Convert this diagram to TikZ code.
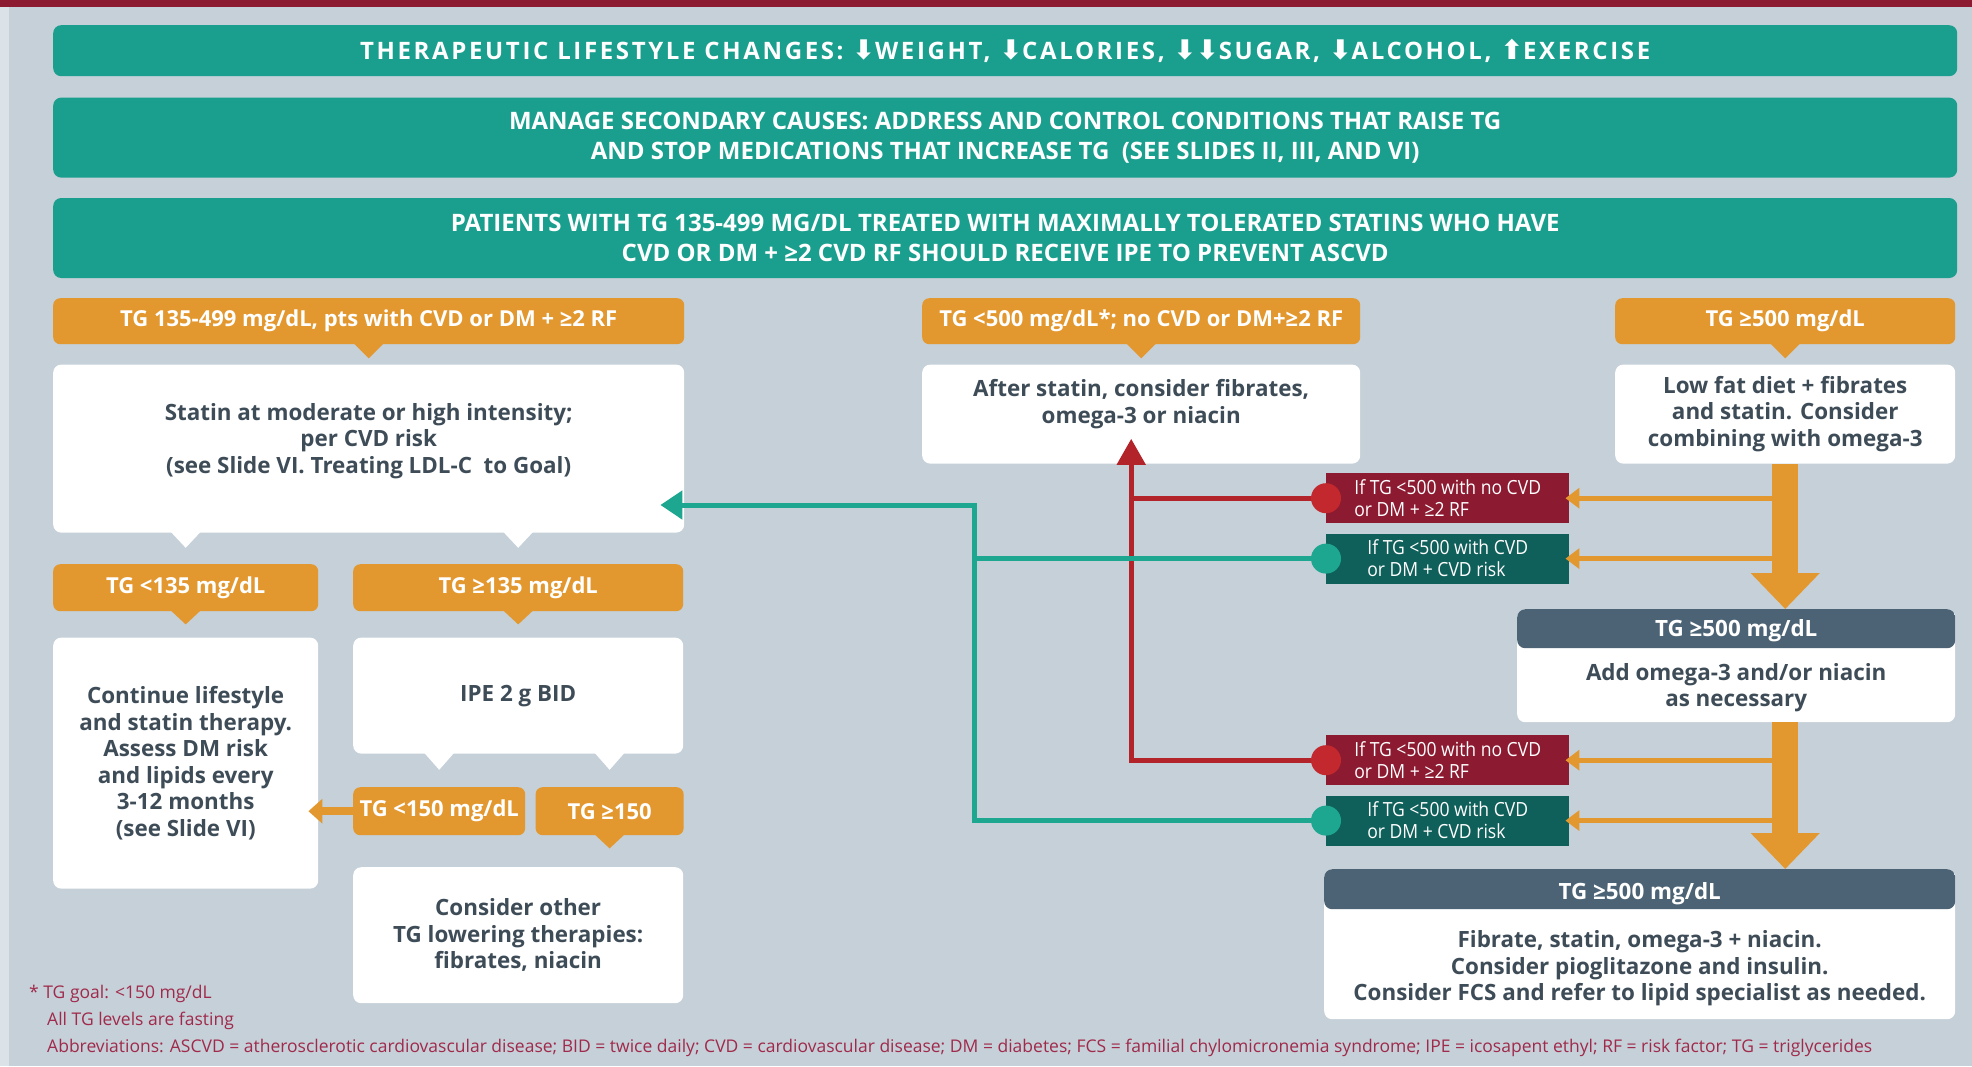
\documentclass[tikz,border=0pt]{standalone}
\usepackage{fontspec}
\setmainfont{Open Sans}
\newfontfamily\narrowfont{Open Sans}[FakeStretch=0.9]
\newfontfamily\arrowfont{DejaVu Sans}
\usepackage{tikz}
\usetikzlibrary{arrows.meta,positioning,calc}
\definecolor{PageBg}{HTML}{C5D0D8}
\definecolor{EdgeBg}{HTML}{DCE3E8}
\definecolor{Crimson}{HTML}{8C1A30}
\definecolor{BannerTeal}{HTML}{1A9F8E}
\definecolor{TGOrange}{HTML}{E3982F}
\definecolor{InkGray}{HTML}{3E4C58}
\definecolor{DeepTeal}{HTML}{0F5F5A}
\definecolor{LineTeal}{HTML}{1DA690}
\definecolor{LineRed}{HTML}{B3242A}
\definecolor{DotRed}{HTML}{C2282D}
\definecolor{Slate}{HTML}{4B6375}
\definecolor{NoteRed}{HTML}{A02A4B}
\newcommand{\tgdown}{{\arrowfont\fontsize{27}{27}\selectfont ⬇}}
\newcommand{\tgup}{{\arrowfont\fontsize{27}{27}\selectfont ⬆}}
\newcommand{\tgnotch}[3]{\fill[#1] ($(#2)+(-15,-1)$) -- ($(#2)+(15,-1)$) -- ($(#2)+(0,#3)$) -- cycle;}

\begin{document}
\begin{tikzpicture}[
  x=1pt, y=-1pt,
  banner/.style={fill=BannerTeal, rounded corners=8pt, text=white, font=\bfseries\fontsize{24}{30}\selectfont, align=center, minimum width=1904pt, inner sep=0pt},
  hdr/.style={fill=TGOrange, rounded corners=7pt, text=white, font=\bfseries\fontsize{22}{26}\selectfont, minimum height=46pt, inner sep=0pt, align=center},
  card/.style={fill=white, rounded corners=8pt, text=InkGray, font=\bfseries\fontsize{22.4}{26.5}\selectfont, align=center, inner sep=0pt},
  slatecard/.style={card, path picture={\fill[Slate] (path picture bounding box.north west) rectangle ([yshift=-#1]path picture bounding box.north east);}},
  tag/.style={text=white, font=\narrowfont\fontsize{19.5}{22}\selectfont, align=left, minimum width=243pt, minimum height=50pt, inner sep=0pt},
  note/.style={text=NoteRed, font=\fontsize{17.5}{20}\selectfont, inner sep=0pt},
  bigflow/.style={draw=TGOrange, line width=26pt, -{Triangle[width=67pt,length=36pt]}},
  sideflow/.style={draw=TGOrange, line width=5pt, -{Triangle[width=20pt,length=14pt]}},
  smallflow/.style={draw=TGOrange, line width=8pt, -{Triangle[width=24pt,length=14pt]}},
  tealline/.style={draw=LineTeal, line width=5pt},
  tealflow/.style={tealline, -{Triangle[width=28pt,length=22pt]}},
  redline/.style={draw=LineRed, line width=5pt},
  redflow/.style={redline, -{Triangle[width=28pt,length=26pt]}}
]
\useasboundingbox (0,0) rectangle (1972,1066);
\fill[PageBg] (0,0) rectangle (1972,1066);
\fill[EdgeBg] (0,7) rectangle (9,1066);
\fill[Crimson] (0,0) rectangle (1972,7);

\node[banner, minimum height=51pt, anchor=north west] (life) at (53,25) {\addfontfeatures{LetterSpace=11}THERAPEUTIC LIFESTYLE CHANGES: \tgdown{}WEIGHT, \tgdown{}CALORIES, \tgdown\tgdown{}SUGAR, \tgdown{}ALCOHOL, \tgup{}EXERCISE};
\node[banner, minimum height=80pt, below=21pt of life] (causes) {MANAGE SECONDARY CAUSES: ADDRESS AND CONTROL CONDITIONS THAT RAISE TG\\AND STOP MEDICATIONS THAT INCREASE TG\ \ (SEE SLIDES II, III, AND VI)};
\node[banner, minimum height=80pt, below=20pt of causes] (ipebanner) {PATIENTS WITH TG 135-499 MG/DL TREATED WITH MAXIMALLY TOLERATED STATINS WHO HAVE\\CVD OR DM + ≥2 CVD RF SHOULD RECEIVE IPE TO PREVENT ASCVD};

\node[hdr, minimum width=631pt, anchor=north west] (hdrL) at (53,298) {TG 135-499 mg/dL, pts with CVD or DM + ≥2 RF};
\node[card, minimum width=631pt, minimum height=168pt, text depth=21pt, below=20pt of hdrL] (statin) {Statin at moderate or high intensity;\\per CVD risk\\(see Slide VI. Treating LDL-C\ \ to Goal)};
\node[hdr, minimum width=438pt, anchor=north west] (hdrM) at (922,298) {TG <500 mg/dL*; no CVD or DM+≥2 RF};
\node[card, minimum width=438pt, minimum height=99pt, text depth=25pt, below=20pt of hdrM] (after) {After statin, consider fibrates,\\omega-3 or niacin};
\node[hdr, minimum width=340pt, anchor=north west] (hdrR) at (1615,298) {TG ≥500 mg/dL};
\node[card, minimum width=340pt, minimum height=99pt, below=20pt of hdrR] (lowfat) {Low fat diet + fibrates\\and statin. Consider\\combining with omega-3};

\node[hdr, minimum width=265pt, minimum height=47pt, anchor=north west] (lt135) at (53,564) {TG <135 mg/dL};
\node[card, minimum width=265pt, minimum height=251pt, below=26pt of lt135] (cont) {Continue lifestyle\\and statin therapy.\\Assess DM risk\\and lipids every\\3-12 months\\(see Slide VI)};
\node[hdr, minimum width=330pt, minimum height=47pt, anchor=north west] (ge135) at (353,564) {TG ≥135 mg/dL};
\node[card, minimum width=330pt, minimum height=116pt, below=26pt of ge135] (ipe) {IPE 2 g BID};
\node[hdr, minimum width=172pt, minimum height=48pt, anchor=north west] (lt150) at (353,787) {TG <150 mg/dL};
\node[hdr, minimum width=148pt, minimum height=48pt, right=10pt of lt150] (ge150) {TG ≥150};
\node[card, minimum width=330pt, minimum height=136pt, anchor=north west] (other) at (353,867) {Consider other\\TG lowering therapies:\\fibrates, niacin};

\node[slatecard=39pt, minimum width=438pt, minimum height=113pt, anchor=north west] (ge500a) at (1517,609) {{\color{white}TG ≥500 mg/dL}\\[17pt]Add omega-3 and/or niacin\\as necessary};
\node[slatecard=40pt, minimum width=631pt, minimum height=150pt, anchor=north west] (ge500b) at (1324,869) {{\color{white}TG ≥500 mg/dL}\\[22pt]Fibrate, statin, omega-3 + niacin.\\Consider pioglitazone and insulin.\\Consider FCS and refer to lipid specialist as needed.};

\node[tag, fill=Crimson, anchor=north west] (ifA) at (1326,473) {If TG <500 with no CVD\\or DM + ≥2 RF};
\node[tag, fill=DeepTeal, below=10pt of ifA] (ifB) {If TG <500 with CVD\\or DM + CVD risk};
\node[tag, fill=Crimson, anchor=north west] (ifC) at (1326,735) {If TG <500 with no CVD\\or DM + ≥2 RF};
\node[tag, fill=DeepTeal, below=10pt of ifC] (ifD) {If TG <500 with CVD\\or DM + CVD risk};

\tgnotch{TGOrange}{hdrL.south}{14}
\tgnotch{TGOrange}{hdrM.south}{14}
\tgnotch{TGOrange}{hdrR.south}{14}
\tgnotch{white}{lt135.north |- statin.south}{15}
\tgnotch{white}{ge135.north |- statin.south}{15}
\tgnotch{TGOrange}{lt135.south}{13}
\tgnotch{TGOrange}{ge135.south}{13}
\tgnotch{white}{lt150.north |- ipe.south}{16}
\tgnotch{white}{ge150.north |- ipe.south}{16}
\tgnotch{TGOrange}{ge150.south}{13}

\draw[smallflow] (lt150.west) -- ([xshift=-10pt]cont.east |- lt150.west);
\foreach \t in {ifA,ifB,ifC,ifD}
  \draw[sideflow] (\t.east -| lowfat.south) -- ([xshift=-4pt]\t.east);
\draw[bigflow] (lowfat.south) -- (lowfat.south |- ge500a.north);
\draw[bigflow] (lowfat.south |- ge500a.south) -- (lowfat.south |- ge500b.north);

\coordinate (redx) at ([xshift=-10pt,yshift=25pt]after.south);
\coordinate (tealx) at (974,505);
\draw[redline] (ifA.west) -- (ifA.west -| redx);
\draw[redflow] (ifC.west) -| (redx);
\draw[tealline] (ifB.west) -- (ifB.west -| tealx);
\draw[tealflow] (ifD.west) -| (tealx) -- ([xshift=-24pt]statin.east |- tealx);
\foreach \t in {ifA,ifC} \fill[DotRed] (\t.west) circle (15pt);
\foreach \t in {ifB,ifD} \fill[LineTeal] (\t.west) circle (15pt);

\node[note, anchor=base west] (goal) at (29,998) {* TG goal: <150 mg/dL};
\node[note, anchor=base west] (fasting) at (47,1025) {All TG levels are fasting};
\node[note, anchor=base west] (abbr) at (47,1052) {Abbreviations: ASCVD = atherosclerotic cardiovascular disease; BID = twice daily; CVD = cardiovascular disease; DM = diabetes; FCS = familial chylomicronemia syndrome; IPE = icosapent ethyl; RF = risk factor; TG = triglycerides};
\end{tikzpicture}
\end{document}
